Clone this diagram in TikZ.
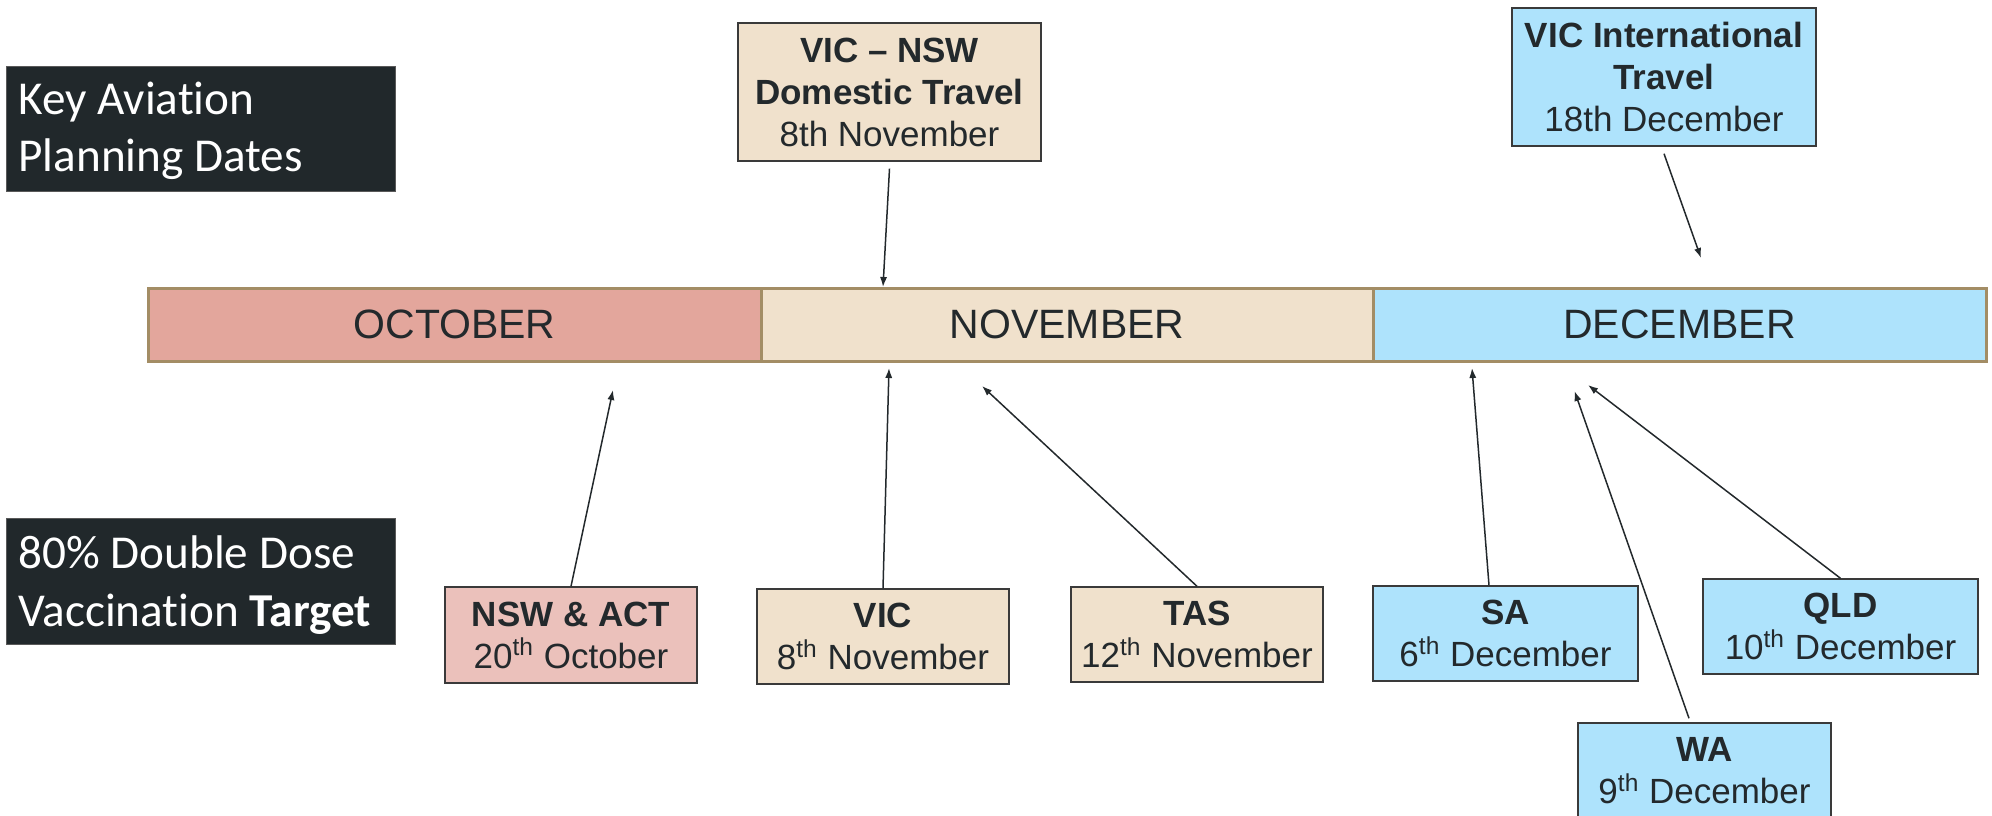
\documentclass[tikz,border=0pt]{standalone}
\usepackage{fontspec}
\setmainfont{Liberation Sans}
\newfontfamily\calfont[Ligatures=NoCommon]{Carlito}
\usetikzlibrary{arrows.meta,calc}
\definecolor{darkbg}{HTML}{21282B}
\definecolor{octfill}{HTML}{E3A69C}
\definecolor{nswfill}{HTML}{EBC1BB}
\definecolor{novfill}{HTML}{F0E1CC}
\definecolor{decfill}{HTML}{AEE3FC}
\definecolor{barborder}{HTML}{A38D65}
\definecolor{boxborder}{HTML}{3A3A3A}
\definecolor{textc}{HTML}{23292C}
\tikzset{
  darkbox/.style={rectangle, fill=darkbg, draw=gray!70!black, line width=0.5pt,
    minimum width=194.5pt, inner sep=0pt},
  darktext/.style={text=white, inner sep=0pt, align=left, anchor=base west,
    font=\calfont\fontsize{23.6pt}{28.75pt}\selectfont},
  monthbar/.style={rectangle, draw=barborder, line width=1.5pt, text=textc,
    minimum height=36.5pt, inner sep=0pt,
    font=\fontsize{20.5pt}{24pt}\selectfont},
  datebox/.style={rectangle, draw=boxborder, line width=0.7pt, text=textc, align=center,
    inner sep=0pt, font=\fontsize{17.5pt}{21pt}\selectfont},
  conn/.style={draw=textc, line width=0.75pt, -{Latex[length=5pt,width=3.6pt]}}
}
\begin{document}
\begin{tikzpicture}[x=0.5pt,y=-0.5pt]
\useasboundingbox (0,0) rectangle (1992,815);
% title boxes
\node[darkbox, minimum height=62.5pt] (key) at (200.5,128.5) {};
\node[darktext] (keyl1) at (18,114) {Key Aviation};
\node[darktext] (keyl2) at (18,171) {Planning Dates};
\node[darkbox, minimum height=63pt] (target) at (200.5,581) {};
\node[darktext] (tgtl1) at (18,568) {80\% Double Dose};
\node[darktext] (tgtl2) at (18,626) {Vaccination \textbf{Target}};
% timeline bar
\node[monthbar, fill=octfill, minimum width=306.5pt] (oct) at (454.5,324.5) {OCTOBER};
\node[monthbar, fill=novfill, minimum width=306pt] (nov) at (1067,324.5) {NOVEMBER};
\node[monthbar, fill=decfill, minimum width=306.5pt] (dec) at (1679.5,324.5) {DECEMBER};
% top boxes
\node[datebox, fill=novfill, minimum width=151.5pt, minimum height=69pt] (vn) at (889.5,92)
  {\textbf{VIC -- NSW}\\\textbf{Domestic Travel}\\8th November};
\node[datebox, fill=decfill, minimum width=152pt, minimum height=69pt] (vi) at (1664,77)
  {\textbf{VIC International}\\\textbf{Travel}\\18th December};
% bottom boxes
\node[datebox, fill=nswfill, minimum width=126pt, minimum height=48pt] (nsw) at (571,635)
  {\textbf{NSW \& ACT}\\20\textsuperscript{th} October};
\node[datebox, fill=novfill, minimum width=126pt, minimum height=47.5pt] (vic) at (883,636.5)
  {\textbf{VIC}\\8\textsuperscript{th} November};
\node[datebox, fill=novfill, minimum width=126pt, minimum height=47.5pt] (tas) at (1197,634.5)
  {\textbf{TAS}\\12\textsuperscript{th} November};
\node[datebox, fill=decfill, minimum width=132.5pt, minimum height=47.5pt] (sa) at (1505.5,633.5)
  {\textbf{SA}\\6\textsuperscript{th} December};
\node[datebox, fill=decfill, minimum width=137.5pt, minimum height=47.5pt] (qld) at (1840.5,626.5)
  {\textbf{QLD}\\10\textsuperscript{th} December};
\node[datebox, fill=decfill, minimum width=126.5pt, minimum height=48pt] (wa) at (1704.5,771)
  {\textbf{WA}\\9\textsuperscript{th} December};
% arrow targets
\coordinate (tvn) at (883,287);
\coordinate (tvi) at (1701,258);
\coordinate (tnsw) at (613,390);
\coordinate (tvic) at (889,368);
\coordinate (ttas) at (982,386);
\coordinate (tsa) at (1472,368);
\coordinate (tqld) at (1588,385);
\coordinate (twa) at (1574.5,391);
% connectors
\draw[conn] ($(vn.south)+(0,7)$) -- (tvn);
\draw[conn] ($(vi.south)+(0,7)$) -- (tvi);
\draw[conn] (nsw.north) -- (tnsw);
\draw[conn] (vic.north) -- (tvic);
\draw[conn] (tas.north) -- (ttas);
\draw[conn] ($(sa.north)+(-16.5,0)$) -- (tsa);
\draw[conn] (qld.north) -- (tqld);
\draw[conn] ($(wa.north)+(-15.5,-4)$) -- (twa);
\end{tikzpicture}
\end{document}
